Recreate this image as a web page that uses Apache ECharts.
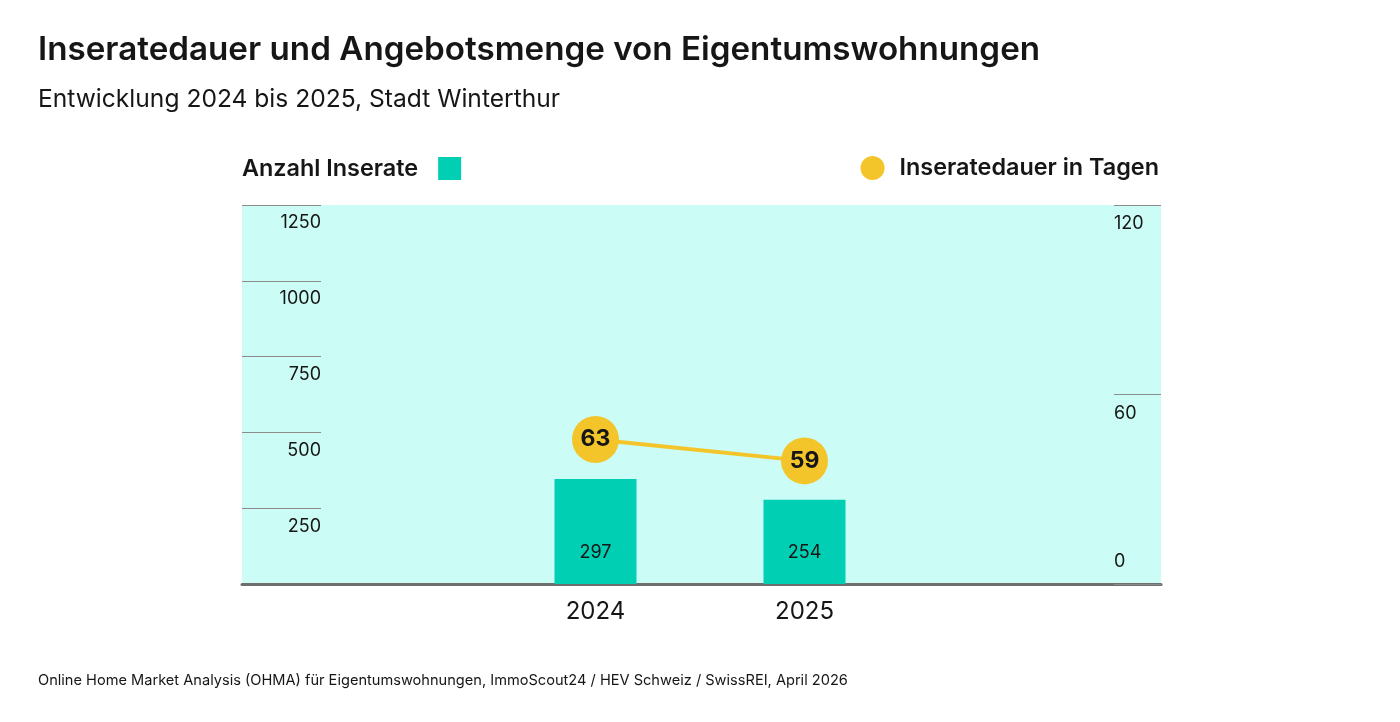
<!DOCTYPE html>
<html>
<head>
<meta charset="utf-8">
<script src="https://cdn.jsdelivr.net/npm/echarts@6/dist/echarts.min.js"></script>
<style>
  html, body { margin: 0; padding: 0; background: #ffffff; }
  #chart { width: 1400px; height: 722px; }
</style>
</head>
<body>
<div id="chart"></div>
<script>
// data
var years = ['2024', '2025'];
var listings = [297, 254];        // Anzahl Inserate
var duration = [63, 59];          // Inseratedauer in Tagen
var leftTicks = [0, 1250, 250];   // min, max, step of the left axis
var rightTicks = [0, 120, 60];    // min, max, step of the right axis

var FONT = 'Inter';
var TEAL = '#00cfb3';
var GOLD = '#f4c52b';
var INK = '#161616';

var chart = echarts.init(document.getElementById('chart'));

var option = {
	backgroundColor: '#ffffff',
	textStyle: {fontFamily: FONT},
	title: [
		{
			text: 'Inseratedauer und Angebotsmenge von Eigentumswohnungen',
			left: 38, top: 31, padding: 0,
			textStyle: {fontFamily: FONT, fontSize: 33.2, fontWeight: 600, color: INK, lineHeight: 38}
		},
		{
			text: 'Entwicklung 2024 bis 2025, Stadt Winterthur',
			left: 38, top: 86, padding: 0,
			textStyle: {fontFamily: FONT, fontSize: 24.6, fontWeight: 400, color: INK, lineHeight: 28}
		},
		{
			text: 'Online Home Market Analysis (OHMA) für Eigentumswohnungen, ImmoScout24 / HEV Schweiz / SwissREI, April 2026',
			left: 38, top: 671, padding: 0,
			textStyle: {fontFamily: FONT, fontSize: 14.6, fontWeight: 400, color: INK, lineHeight: 20}
		}
	],
	legend: [
		{
			data: ['Anzahl Inserate'],
			left: 242, top: 157, padding: 0,
			align: 'right',
			icon: 'rect', itemWidth: 23, itemHeight: 23,
			selectedMode: false,
			textStyle: {fontFamily: FONT, fontSize: 23.4, fontWeight: 600, color: INK, padding: [0, 15, 0, 0]}
		},
		{
			data: ['Inseratedauer in Tagen'],
			right: 241, top: 156, padding: 0,
			icon: 'circle', itemWidth: 24, itemHeight: 24,
			selectedMode: false,
			textStyle: {fontFamily: FONT, fontSize: 23.4, fontWeight: 600, color: INK, padding: [0, 0, 0, 10]}
		}
	],
	grid: [
		// full panel with the pale background and the visible axes
		{left: 242, right: 239, top: 205, bottom: 138, show: true, backgroundColor: '#cbfcf5', borderWidth: 0},
		// inner band holding the two years
		{left: 491, right: 491, top: 205, bottom: 138}
	],
	xAxis: [
		{
			gridIndex: 0, type: 'category', data: [''],
			axisLine: {show: true, lineStyle: {color: '#6e6e6e', width: 3}},
			axisTick: {show: false}, axisLabel: {show: false}, splitLine: {show: false}
		},
		{
			gridIndex: 1, type: 'category', data: years,
			axisLine: {show: false}, axisTick: {show: false},
			axisLabel: {fontFamily: FONT, fontSize: 24, color: INK, margin: 16}
		}
	],
	yAxis: [
		{
			gridIndex: 0, type: 'value', position: 'left',
			min: leftTicks[0], max: leftTicks[1], interval: leftTicks[2],
			axisLine: {show: false}, splitLine: {show: false},
			axisTick: {show: true, inside: true, length: 79, lineStyle: {color: '#8c8c8c', width: 1}},
			axisLabel: {
				inside: true, margin: 79, align: 'right', verticalAlign: 'top',
				padding: [9, 0, 0, 0], showMinLabel: false,
				fontFamily: FONT, fontSize: 18, color: INK,
				formatter: function(v){ return String(v); }
			}
		},
		{
			gridIndex: 0, type: 'value', position: 'right',
			min: rightTicks[0], max: rightTicks[1], interval: rightTicks[2],
			axisLine: {show: false}, splitLine: {show: false},
			axisTick: {show: true, inside: true, length: 47, lineStyle: {color: '#8c8c8c', width: 1}},
			axisLabel: {
				inside: true, margin: 47, align: 'left', verticalAlign: 'top',
				padding: [10, 0, 0, 0],
				fontFamily: FONT, fontSize: 18, color: INK,
				formatter: function(v){ return v === 0 ? '' : String(v); }
			}
		},
		{
			// the zero label of the right axis sits above the base line
			gridIndex: 0, type: 'value', position: 'right',
			min: rightTicks[0], max: rightTicks[1], interval: rightTicks[2],
			axisLine: {show: false}, splitLine: {show: false}, axisTick: {show: false},
			axisLabel: {
				inside: true, margin: 47, align: 'left', verticalAlign: 'bottom',
				padding: [0, 0, 13, 0],
				fontFamily: FONT, fontSize: 18, color: INK,
				formatter: function(v){ return v === 0 ? '0' : ''; }
			}
		},
		{
			// scale used for the bars
			gridIndex: 1, type: 'value', min: 79, max: 866, show: false
		},
		{
			// scale used for the line
			gridIndex: 1, type: 'value', min: 36, max: 106.8, show: false
		}
	],
	series: [
		{
			name: 'Anzahl Inserate',
			type: 'bar',
			xAxisIndex: 1, yAxisIndex: 3,
			data: listings,
			barWidth: 82,
			clip: true,
			itemStyle: {color: TEAL},
			label: {
				show: true, position: 'insideBottom', distance: 22,
				fontFamily: FONT, fontSize: 18, color: INK
			},
			z: 2
		},
		{
			name: 'Inseratedauer in Tagen',
			type: 'line',
			xAxisIndex: 1, yAxisIndex: 4,
			data: duration,
			symbol: 'circle', symbolSize: 47,
			lineStyle: {color: GOLD, width: 4},
			itemStyle: {color: GOLD},
			label: {
				show: true, position: 'inside',
				fontFamily: FONT, fontSize: 23, fontWeight: 700, color: INK
			},
			z: 3
		}
	]
};

chart.setOption(option);
</script>
</body>
</html>
